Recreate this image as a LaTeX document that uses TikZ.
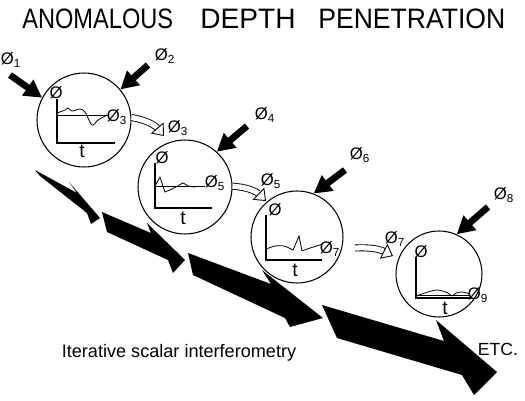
\documentclass[tikz,border=0pt]{standalone}
\usepackage{fontspec}
\setmainfont{Liberation Sans}
\usetikzlibrary{arrows.meta, positioning}

\begin{document}
\begin{tikzpicture}[x=0.02cm, y=-0.02cm,
		ring/.style={draw, circle, line width=0.6pt, inner sep=0},
		phi/.style={inner sep=0, font=\fontsize{9.5}{11}\selectfont},
		axis/.style={line width=0.6pt},
		wave/.style={line width=0.45pt},
		inarrow/.style={line width=3.8pt, -{Triangle[length=10pt, width=10.5pt]}},
		hollow/.style={double, double distance=3pt, line width=0.5pt, -{Triangle[open, length=6pt, width=9.5pt]}},
		bigarrow/.style={fill=black}]
		\useasboundingbox (0,0) rectangle (525,400);
		\node[anchor=base west, inner sep=0, font=\fontsize{16}{19}\selectfont, xscale=0.84] (tA) at (22,28) {ANOMALOUS};
		\node[anchor=base west, inner sep=0, font=\fontsize{16}{19}\selectfont] (tD) at (200,28) {DEPTH};
		\node[anchor=base west, inner sep=0, font=\fontsize{16}{19}\selectfont, xscale=0.945] (tP) at (318,28) {PENETRATION};
		\fill[bigarrow] (35,170) -- (77,193) -- (69,182) -- (100,218) -- (91,224) -- (87,213) -- (40,176) -- cycle;
		\fill[bigarrow] (102,212) -- (151,233) -- (147,223) -- (185,260) -- (173,273) -- (168,260) -- (107,232) -- cycle;
		\fill[bigarrow] (188,253) -- (271,284) -- (262,270) -- (323,318) -- (290,327) -- (285,318) -- (193,275) -- cycle;
		\fill[bigarrow] (322,305) -- (444,341) -- (436,320) -- (497,372) -- (474,395) -- (462,375) -- (337,338) -- cycle;
		\node[ring, minimum size=1.88cm] (c1) at (84,120) {};
		\node[ring, minimum size=1.88cm] (c2) at (185,187) {};
		\node[ring, minimum size=1.84cm] (c3) at (297,237) {};
		\node[ring, minimum size=1.72cm] (c4) at (439,274) {};
		\coordinate (s1) at (10,75);
		\coordinate (s2) at (148,65);
		\coordinate (s4) at (247,126);
		\coordinate (s6) at (345,170);
		\coordinate (s8) at (488,207);
		\draw[inarrow] (s1) -- (c1.152);
		\draw[inarrow] (s2) -- (c1.40);
		\draw[inarrow] (s4) -- (c2.48);
		\draw[inarrow] (s6) -- (c3.69);
		\draw[inarrow] (s8) -- (c4.66);
		\node[phi] (p1) at (11,60) {Ø\textsubscript{1}};
		\node[phi] (p2) at (165,56) {Ø\textsubscript{2}};
		\node[phi] (p3) at (178,128) {Ø\textsubscript{3}};
		\node[phi] (p4) at (265,115) {Ø\textsubscript{4}};
		\node[phi] (p5) at (271,181) {Ø\textsubscript{5}};
		\node[phi] (p6) at (360,155) {Ø\textsubscript{6}};
		\node[phi] (p7) at (395,239) {Ø\textsubscript{7}};
		\node[phi] (p8) at (504,195) {Ø\textsubscript{8}};
		\coordinate (h1) at (164,136);
		\coordinate (h2) at (266,201);
		\coordinate (g3) at (355,248);
		\coordinate (h3) at (393,256);
		\draw[hollow] (c1.3) to[bend left=20] (h1);
		\draw[hollow] (c2.1) to[bend left=20] (h2);
		\draw[hollow] (g3) to[bend left=15] (h3);
		\draw[axis] (57,99) -- (57,143) -- (115,143);
		\node[phi] (o1) at (56,93) {Ø};
		\node[phi] (r1) at (117,117) {Ø\textsubscript{3}};
		\node[phi, font=\fontsize{11}{12}\selectfont] (t1) at (82,151) {t};
		\draw[wave] (57,115) -- (108,115);
		\draw[wave] plot[smooth] coordinates {(57,113) (65,110) (68,108) (72,111) (80,109) (85,112) (92,125) (98,120) (107,115)};
		\draw[axis] (155,163) -- (155,208) -- (212,208);
		\node[phi] (o2) at (162,158) {Ø};
		\node[phi] (r2) at (215,183) {Ø\textsubscript{5}};
		\node[phi, font=\fontsize{11}{12}\selectfont] (t2) at (183,218) {t};
		\draw[wave] (155,186) -- (205,186);
		\draw[wave] (155,186) -- (160,177) -- (165,192) -- (172,189);
		\draw[wave] plot[smooth] coordinates {(172,189) (178,186) (183,183) (188,186) (195,187)};
		\draw[axis] (266,215) -- (266,260) -- (322,260);
		\node[phi] (o3) at (275,210) {Ø};
		\node[phi] (r3) at (330,249) {Ø\textsubscript{7}};
		\node[phi, font=\fontsize{11}{12}\selectfont] (t3) at (295,270) {t};
		\draw[wave] plot[smooth] coordinates {(266,249) (275,246) (284,246) (293,250)};
		\draw[wave] (293,250) -- (299,236) -- (302,251);
		\draw[wave] plot[smooth] coordinates {(302,251) (310,248) (317,246) (322,244)};
		\draw[axis] (416,257) -- (416,298) -- (472,298);
		\node[phi] (o4) at (421,252) {Ø};
		\node[phi] (r4) at (478,295) {Ø\textsubscript{9}};
		\node[phi, font=\fontsize{11}{12}\selectfont] (t4) at (445,308) {t};
		\draw[wave] (416,295) -- (470,295);
		\draw[wave] plot[smooth] coordinates {(416,296) (425,293) (437,290) (448,293) (452,296) (456,293) (462,292) (470,294)};
		\node[phi, font=\fontsize{10.3}{12}\selectfont] (cap) at (179,353) {Iterative scalar interferometry};
		\node[phi, font=\fontsize{10}{12}\selectfont] (etc) at (498,349) {ETC.};
\end{tikzpicture}
\end{document}
